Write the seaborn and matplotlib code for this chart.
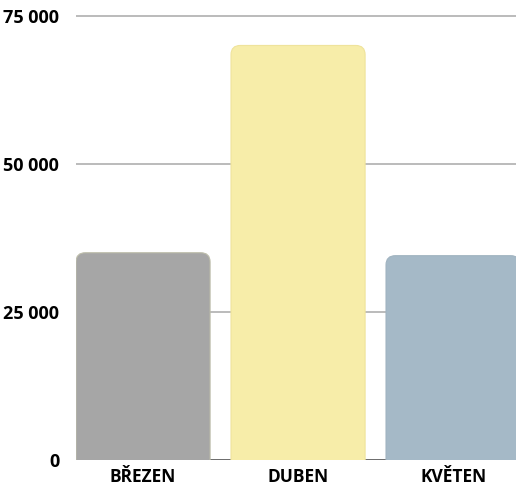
import pandas as pd
import matplotlib.pyplot as plt
import seaborn as sns
from matplotlib.patches import FancyBboxPatch

# data
months = ["BŘEZEN", "DUBEN", "KVĚTEN"]
values = [35000, 70000, 34500]
colors = ["#a6a6a6", "#f7eda9", "#a5b9c7"]
edges = ["#bdbdaa", "#efe39c", "#a0b3c0"]
y_ticks = [0, 25000, 50000, 75000]
y_labels = ["0", "25 000", "50 000", "75 000"]

sns.set_theme(style="white")
plt.rcParams['font.family'] = ['Open Sans', 'DejaVu Sans']

df = pd.DataFrame({"month": months, "value": values})

fig = plt.figure(figsize=(5.16, 4.86), dpi=100)
ax = fig.add_axes([76 / 516, 26 / 486, 1 - 76 / 516, 1 - 26 / 486 - 4 / 486])

sns.barplot(data=df, x="month", y="value", hue="month", palette=colors,
            saturation=1, width=0.865, legend=False, ax=ax)

ax.set_xlim(-0.4325, 2.406)
ax.set_ylim(0, 77000)

# swap the flat bars for rounded-top ones
r_x = 0.06
r_y = 1550
for patch, ec in zip(list(ax.patches), edges):
    x0, y0 = patch.get_x(), patch.get_y()
    w, h = patch.get_width(), patch.get_height()
    fc = patch.get_facecolor()
    patch.remove()
    rb = FancyBboxPatch((x0, y0 - 3 * r_y), w, h + 3 * r_y,
                        boxstyle=f"round,pad=0,rounding_size={r_x}",
                        mutation_aspect=r_y / r_x,
                        facecolor=fc, edgecolor=ec, linewidth=0.8, zorder=3)
    ax.add_patch(rb)

ax.set_yticks(y_ticks)
ax.set_yticklabels(y_labels)
ax.yaxis.grid(True, color="#bbbbbb", linewidth=1.4)
ax.set_axisbelow(True)
ax.axhline(0, color="#666666", linewidth=2, zorder=2)

for s in ax.spines.values():
    s.set_visible(False)
ax.tick_params(axis="y", length=0, pad=12, labelsize=13)
ax.tick_params(axis="x", length=0, pad=6, labelsize=12.5)
for lab in ax.get_xticklabels() + ax.get_yticklabels():
    lab.set_fontweight("bold")
    lab.set_color("black")
ax.set_xlabel("")
ax.set_ylabel("")

fig.savefig("out.png", dpi=100)
